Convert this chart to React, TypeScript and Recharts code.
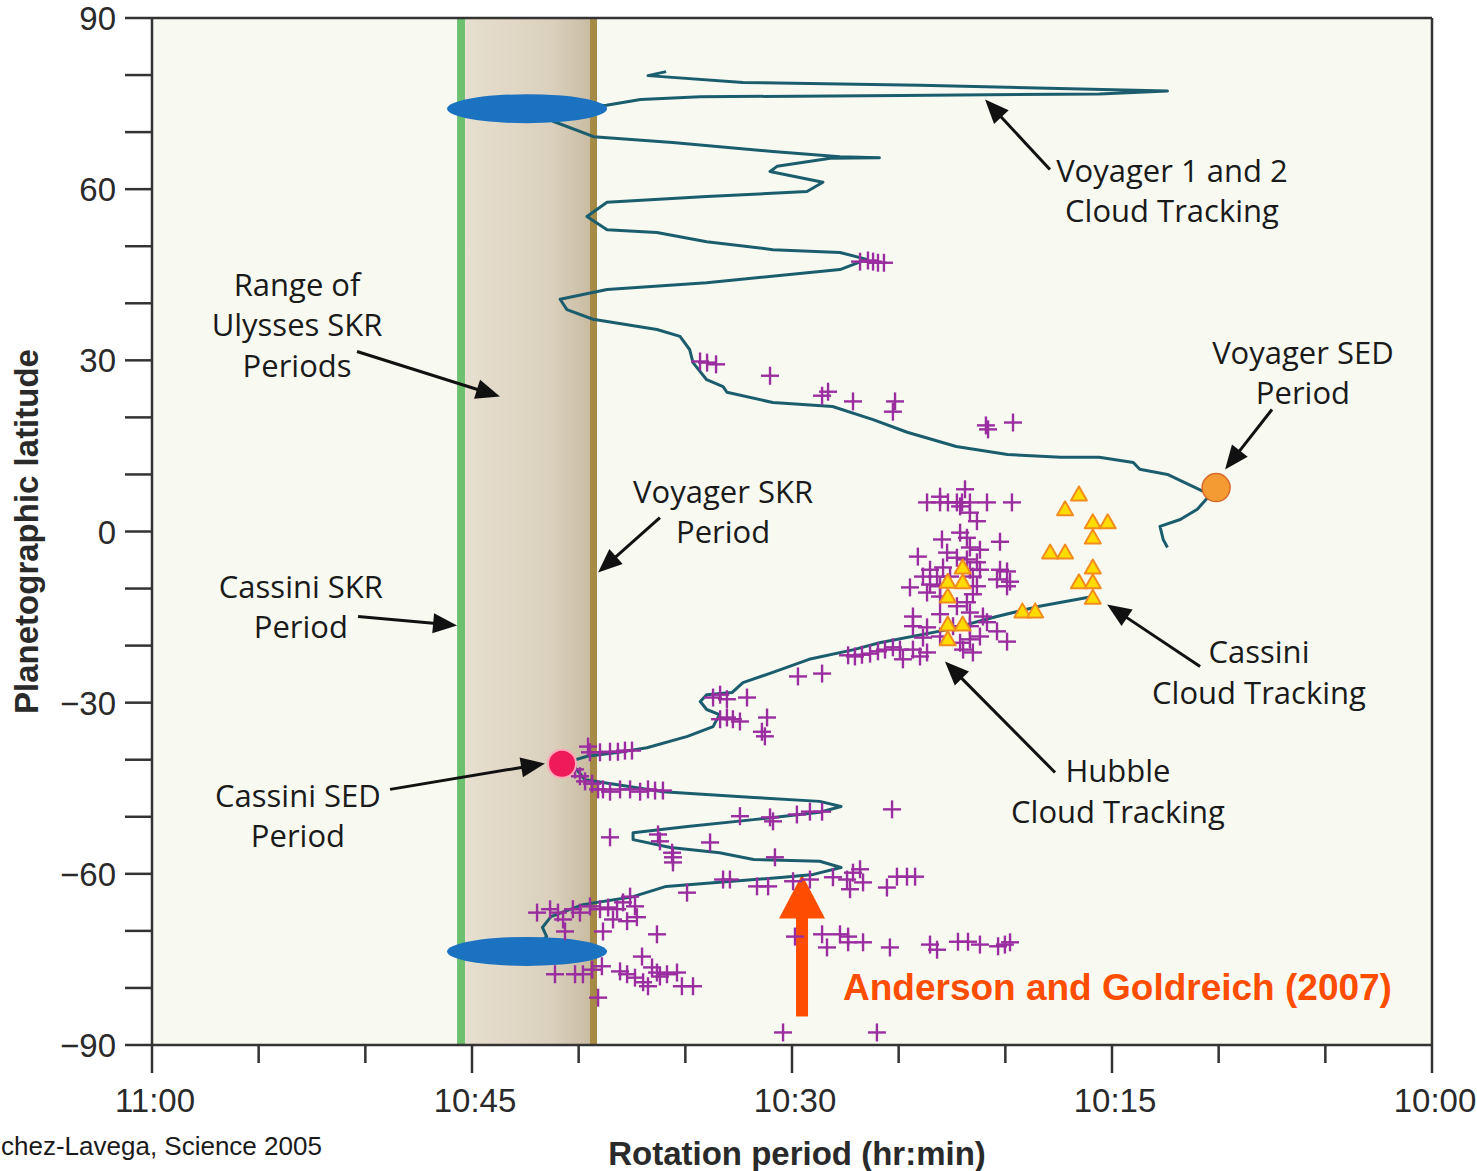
import React from 'react';
import {
  ComposedChart,
  XAxis,
  YAxis,
  Scatter,
  ReferenceArea,
  ReferenceLine,
  ReferenceDot,
  Label,
} from 'recharts';

// x value = minutes of rotation period below 11:00 (0 -> 11:00, 60 -> 10:00); y = planetographic latitude (deg)
const xTicks = [0, 5, 10, 15, 20, 25, 30, 35, 40, 45, 50, 55, 60];
const xMajorTicks = [0, 15, 30, 45, 60];
const xTickLabels = ['11:00', '10:45', '10:30', '10:15', '10:00'];
const yTicks = [-90, -80, -70, -60, -50, -40, -30, -20, -10, 0, 10, 20, 30, 40, 50, 60, 70, 80, 90];
const yMajorTicks = [-90, -60, -30, 0, 30, 60, 90];
const yTickLabels = ['\u221290', '\u221260', '\u221230', '0', '30', '60', '90'];

// SKR periods
const cassiniSkr = [14.3, 14.67];
const ulyssesSkrRange = [14.67, 20.53];
const voyagerSkr = [20.53, 20.86];

// Voyager 1 and 2 cloud tracking profile [period, latitude]
const voyagerNorth = [
  [24.1, 80.6], [23.25, 79.9], [27.7, 78.7], [36.0, 78.2], [47.6, 77.2], [44.4, 76.7], [35.1, 76.4],
  [25.7, 76.2], [22.9, 75.7], [21.3, 74.7], [17.6, 74.1], [18.8, 71.9], [20.7, 69.2], [24.4, 68.2],
  [29.1, 66.6], [32.25, 65.7], [34.1, 65.5], [31.8, 65.4], [29.3, 64.0], [28.97, 63.1], [29.6, 62.6],
  [31.45, 61.2], [30.7, 59.6], [26.0, 58.7], [21.33, 57.7], [20.39, 55.2], [21.33, 52.9], [23.67, 52.4],
  [26.0, 50.8], [29.1, 49.4], [32.25, 48.9], [33.5, 47.7], [32.25, 45.9], [26.0, 43.6], [21.33, 42.4],
  [19.13, 40.7], [19.45, 38.9], [20.67, 37.2], [23.67, 35.4], [24.75, 34.2], [25.2, 31.9], [25.36, 29.6],
  [26.0, 26.6], [26.77, 25.4], [26.95, 24.4], [29.1, 22.6], [31.9, 21.9], [33.8, 19.6], [35.4, 17.4],
  [37.7, 14.9], [40.1, 13.5], [42.6, 13.0], [44.4, 13.0], [46.0, 12.1], [46.3, 10.9], [47.6, 10.0],
  [49.3, 7.0], [49.5, 6.0], [49.0, 3.9], [48.2, 2.1], [47.25, 0.9], [47.4, -1.4], [47.6, -2.8],
];
const voyagerSouth = [
  [44.1, -11.4], [41.6, -13.1], [39.6, -14.9], [37.3, -17.2], [34.1, -19.5], [32.9, -20.7], [30.8, -22.4],
  [29.1, -24.7], [27.7, -26.5], [27.2, -28.2], [26.0, -28.6], [25.7, -29.8], [26.0, -31.2], [26.6, -32.1],
  [26.3, -34.2], [25.1, -35.9], [23.2, -37.9], [21.9, -38.7], [20.4, -39.4], [19.6, -40.3], [20.3, -43.5],
  [23.95, -45.6], [28.2, -46.6], [31.3, -47.3], [32.3, -48.2], [31.3, -49.2], [28.2, -50.5], [25.1, -51.7],
  [22.55, -52.8], [22.55, -54.0], [24.3, -55.4], [26.6, -56.3], [28.2, -57.5], [31.3, -57.8], [32.3, -58.9],
  [31.0, -60.1], [29.6, -60.6], [27.2, -61.3], [24.1, -62.2], [22.55, -64.0], [20.2, -65.4], [18.7, -67.5],
  [18.3, -69.4], [18.5, -71.0], [17.7, -73.3],
];

// Hubble cloud tracking [period, latitude]
const hubble = [
  [33.19, 47.3], [33.56, 47.5], [33.8, 47.3], [34.03, 47.1], [34.31, 47.1],
  [25.69, 29.8], [26.02, 29.6], [26.44, 29.3], [28.97, 27.3], [31.41, 23.8], [31.69, 24.5], [32.86, 22.8],
  [34.83, 22.8], [34.73, 21.0], [39.09, 18.6], [39.19, 17.9], [40.36, 19.1],
  [38.11, 7.4], [36.94, 6.1], [36.33, 5.1], [36.94, 5.1], [37.31, 5.1], [37.73, 5.1], [37.97, 5.1],
  [38.34, 5.1], [39.14, 5.1], [40.31, 5.1], [37.88, 4.4], [38.34, 3.3], [38.67, 1.8], [37.88, -0.2],
  [37.03, -1.4], [38.2, -1.1], [39.75, -1.8], [38.34, -2.8], [38.81, -3.2], [35.9, -4.4], [37.27, -3.7],
  [37.73, -4.6], [38.2, -4.9], [38.67, -5.4], [36.47, -6.7], [37.08, -6.3], [38.34, -6.7], [38.81, -6.7],
  [39.75, -6.7], [40.08, -7.0], [36.14, -7.9], [36.8, -7.9], [37.41, -7.9], [38.48, -7.9], [39.61, -8.4],
  [40.22, -8.8], [35.53, -9.8], [36.47, -9.3], [36.94, -9.6], [38.67, -9.6], [40.08, -9.6], [36.33, -10.7],
  [36.94, -11.4], [38.48, -11.0], [38.2, -12.4], [37.73, -13.1], [35.67, -14.9], [36.94, -14.5],
  [38.34, -14.2], [38.95, -14.9], [35.67, -16.6], [36.33, -16.8], [37.55, -16.6], [38.34, -16.6],
  [39.14, -15.9], [39.61, -17.5], [36.14, -18.6], [36.94, -18.4], [37.88, -19.5], [38.34, -18.9],
  [38.81, -18.4], [40.08, -19.3], [35.06, -20.7], [35.67, -20.7], [36.33, -21.2], [35.2, -22.4],
  [36.0, -21.9], [38.02, -20.7], [38.48, -21.2], [32.63, -21.7], [32.95, -21.9], [33.28, -21.6],
  [33.66, -21.4], [34.03, -21.0], [34.36, -20.7], [34.73, -20.3], [30.28, -25.4], [31.41, -24.9],
  [26.3, -29.1], [26.63, -28.6], [26.95, -29.4], [27.89, -29.1], [26.63, -32.9], [26.95, -32.6],
  [27.23, -32.9], [27.56, -33.3], [28.83, -32.6], [28.59, -35.1], [28.73, -35.9],
  [20.44, -37.7], [20.53, -38.7], [21.0, -38.7], [21.47, -38.6], [21.84, -38.6], [22.17, -38.4], [22.5, -38.4],
  [19.83, -41.7], [20.06, -42.9], [20.3, -43.8], [20.63, -44.2], [20.91, -45.2], [21.14, -45.2],
  [21.47, -45.6], [21.94, -45.2], [22.41, -45.2], [22.88, -45.6], [23.25, -45.2], [23.58, -45.4], [23.95, -45.4],
  [27.56, -49.9], [28.97, -50.1], [29.11, -50.8], [30.23, -49.6], [30.84, -49.1], [31.41, -49.1], [34.69, -48.7],
  [21.47, -53.6], [23.72, -53.1], [23.81, -54.3], [26.16, -54.5], [24.38, -56.3], [24.42, -57.1],
  [24.42, -58.0], [29.2, -57.1],
  [26.77, -61.0], [27.09, -61.0], [28.36, -62.2], [28.88, -62.2], [30.05, -61.3], [30.84, -61.0],
  [31.92, -60.6], [32.58, -61.0], [32.86, -59.8], [33.19, -59.2], [32.72, -62.7], [33.33, -61.5],
  [34.45, -62.4], [34.92, -60.5], [35.39, -60.5], [35.77, -60.5], [25.08, -63.3],
  [18.05, -66.8], [18.66, -66.2], [19.03, -66.8], [19.27, -68.0], [19.73, -66.2], [20.06, -66.8],
  [20.53, -65.7], [21.0, -66.2], [21.38, -65.9], [21.8, -66.2], [22.08, -65.0], [22.41, -64.0],
  [22.64, -65.7], [21.61, -68.0], [22.27, -68.3], [22.73, -67.6], [19.36, -70.1], [21.14, -70.1], [23.67, -70.6],
  [18.89, -77.6], [19.83, -77.6], [20.2, -77.6], [20.63, -76.8], [21.09, -76.2], [21.94, -77.1],
  [22.27, -77.6], [22.64, -78.2], [23.02, -79.0], [22.97, -74.5], [23.44, -76.4], [23.67, -77.3],
  [23.81, -78.0], [24.14, -77.6], [24.61, -77.3], [24.84, -79.7], [25.36, -79.7], [23.25, -79.7], [20.91, -81.7],
  [30.14, -71.0], [31.41, -70.6], [31.64, -72.9], [32.25, -70.6], [32.63, -71.0], [32.63, -72.0],
  [33.33, -72.0], [34.59, -72.9], [36.47, -72.4], [36.8, -73.3], [37.78, -71.9], [38.25, -71.9],
  [38.81, -72.4], [39.66, -72.7], [39.98, -72.4], [40.22, -72.0],
  [29.58, -87.8], [33.98, -87.8],
];

// Cassini cloud tracking [period, latitude]
const cassiniCloud = [
  [43.45, 6.5], [42.8, 3.9], [44.1, 1.6], [44.8, 1.6], [44.1, -1.05], [42.1, -3.7], [42.8, -3.7],
  [44.1, -6.3], [43.45, -8.9], [44.1, -8.9], [44.1, -11.6], [40.8, -14.0], [41.4, -14.0],
  [38.0, -6.3], [37.3, -8.8], [38.0, -8.9], [37.3, -11.4], [37.3, -16.3], [38.0, -16.3], [37.3, -18.9],
];

// SED periods and SKR source regions
const cassiniSed = [[19.22, -40.7]];
const voyagerSed = [[49.88, 7.7]];
const skrSources = [[17.58, 74.1], [17.58, -73.6]];

// Annotations: anchor [period, latitude] of first text line
const annotations = [
  { at: [47.81, 61.34], lines: ['Voyager 1 and 2', 'Cloud Tracking'] },
  { at: [6.8, 41.36], lines: ['Range of', 'Ulysses SKR', 'Periods'] },
  { at: [53.95, 29.44], lines: ['Voyager SED', 'Period'] },
  { at: [26.77, 5.08], lines: ['Voyager SKR', 'Period'] },
  { at: [6.98, -11.57], lines: ['Cassini SKR', 'Period'] },
  { at: [6.84, -48.2], lines: ['Cassini SED', 'Period'] },
  { at: [51.89, -23.13], lines: ['Cassini', 'Cloud Tracking'] },
  { at: [45.28, -43.99], lines: ['Hubble', 'Cloud Tracking'] },
];
const arrows = [
  [[42.09, 63.44], [39.05, 75.71]],
  [[9.61, 31.55], [16.31, 23.66]],
  [[52.5, 21.38], [50.3, 10.87]],
  [[23.81, 2.45], [20.91, -7.19]],
  [[9.66, -14.9], [14.3, -16.47]],
  [[11.16, -45.2], [18.42, -40.66]],
  [[49.13, -23.66], [44.77, -12.79]],
  [[42.33, -42.24], [37.17, -22.78]],
];
const andersonText = 'Anderson and Goldreich (2007)';
const andersonAt = [32.39, -82.2];
const andersonArrow = [[30.47, -85.0], [30.47, -60.1]];
const creditText = 'chez-Lavega, Science 2005';

const toPts = (arr: number[][]) => arr.map(([m, lat]) => ({ m, lat }));

const AXIS = '#333333';
const TICK_FONT = '"Liberation Sans", Arial, sans-serif';
const NOTE_FONT = '"Open Sans", "Noto Sans", sans-serif';

const XTick = (props: any) => {
  const { x, y, payload } = props;
  const v = payload.value;
  const idx = xMajorTicks.indexOf(v);
  const major = idx >= 0;
  return (
    <g>
      <line x1={x} y1={y} x2={x} y2={y + (major ? 28 : 18)} stroke={AXIS} strokeWidth={2.5} />
      {major && (
        <text x={x + 3} y={y + 67} textAnchor="middle" fontFamily={TICK_FONT} fontSize={33} fill="#2a2a2a">
          {xTickLabels[idx]}
        </text>
      )}
    </g>
  );
};

const YTick = (props: any) => {
  const { x, y, payload } = props;
  const v = payload.value;
  const idx = yMajorTicks.indexOf(v);
  return (
    <g>
      <line x1={x} y1={y} x2={x - 27} y2={y} stroke={AXIS} strokeWidth={2.5} />
      {idx >= 0 && (
        <text x={x - 36} y={y + 12} textAnchor="end" fontFamily={TICK_FONT} fontSize={33} fill="#2a2a2a">
          {yTickLabels[idx]}
        </text>
      )}
    </g>
  );
};

const NoDot = () => <g />;

const PlusShape = (p: any) =>
  p.cx == null ? <g /> : (
    <g stroke="#9a2d9f" strokeWidth={2.4}>
      <line x1={p.cx - 9} y1={p.cy} x2={p.cx + 9} y2={p.cy} />
      <line x1={p.cx} y1={p.cy - 9} x2={p.cx} y2={p.cy + 9} />
    </g>
  );

const TriShape = (p: any) =>
  p.cx == null ? <g /> : (
    <polygon
      points={`${p.cx},${p.cy - 8} ${p.cx + 8},${p.cy + 6} ${p.cx - 8},${p.cy + 6}`}
      fill="#ffdc00"
      stroke="#f28c1e"
      strokeWidth={2}
      strokeLinejoin="round"
    />
  );

const EllipseShape = (p: any) =>
  p.cx == null ? <g /> : <ellipse cx={p.cx} cy={p.cy} rx={80} ry={14.5} fill="#1b72c1" />;

const RedDot = (p: any) =>
  p.cx == null ? <g /> : <circle cx={p.cx} cy={p.cy} r={14} fill="#ee1b58" stroke="#ffa6b8" strokeWidth={2} />;

const OrangeDot = (p: any) =>
  p.cx == null ? <g /> : <circle cx={p.cx} cy={p.cy} r={14} fill="#f59b33" stroke="#d9692a" strokeWidth={1.5} />;

const ArrowShape = (p: any) => {
  const { x1, y1, x2, y2 } = p;
  if (x1 == null) return <g />;
  const dx = x2 - x1;
  const dy = y2 - y1;
  const len = Math.hypot(dx, dy) || 1;
  const ux = dx / len;
  const uy = dy / len;
  const hl = 24;
  const hw = 10;
  const bx = x2 - ux * hl;
  const by = y2 - uy * hl;
  return (
    <g>
      <line x1={x1} y1={y1} x2={bx + ux * 3} y2={by + uy * 3} stroke="#111" strokeWidth={3} />
      <polygon points={`${x2},${y2} ${bx - uy * hw},${by + ux * hw} ${bx + uy * hw},${by - ux * hw}`} fill="#111" />
    </g>
  );
};

const BigArrowShape = (p: any) => {
  const { x1, y1, x2, y2 } = p;
  if (x1 == null) return <g />;
  const headLen = 44;
  const top = Math.min(y1, y2);
  const bottom = Math.max(y1, y2);
  return (
    <g fill="#ff4d00">
      <rect x={x1 - 6} y={top + headLen - 2} width={12} height={bottom - top - headLen + 2} />
      <polygon points={`${x1},${top} ${x1 + 23},${top + headLen} ${x1 - 23},${top + headLen}`} />
    </g>
  );
};

const makeTextShape = (lines: string[]) => (p: any) =>
  p.cx == null ? <g /> : (
    <text x={p.cx} y={p.cy} textAnchor="middle" fontFamily={NOTE_FONT} fontSize={31} fill="#1a1a1a">
      {lines.map((l, i) => (
        <tspan key={i} x={p.cx} dy={i === 0 ? 0 : 40.5}>
          {l}
        </tspan>
      ))}
    </text>
  );

const andersonShape = (p: any) =>
  p.cx == null ? <g /> : (
    <text x={p.cx} y={p.cy} textAnchor="start" fontFamily={TICK_FONT} fontWeight="bold" fontSize={37} fill="#ff4d00">
      {andersonText}
    </text>
  );

const YTitle = (props: any) => {
  const vb = props.viewBox || { x: 0, y: 18, width: 152, height: 1027 };
  const cx = vb.x + 38;
  const cy = vb.y + vb.height / 2;
  return (
    <text
      x={cx}
      y={cy}
      transform={`rotate(-90 ${cx} ${cy})`}
      textAnchor="middle"
      fontFamily={TICK_FONT}
      fontWeight="bold"
      fontSize={33}
      fill="#2a2a2a"
    >
      Planetographic latitude
    </text>
  );
};

const XTitle = (props: any) => {
  const vb = props.viewBox || { x: 152, y: 1045, width: 1280, height: 126 };
  return (
    <g>
      <text x={vb.x + 645} y={vb.y + 120} textAnchor="middle" fontFamily={TICK_FONT} fontWeight="bold" fontSize={33} fill="#2a2a2a">
        Rotation period (hr:min)
      </text>
      <text x={vb.x - 151} y={vb.y + 110} textAnchor="start" fontFamily={TICK_FONT} fontSize={26} fill="#1a1a1a">
        {creditText}
      </text>
    </g>
  );
};

export default function App() {
  return (
    <div style={{ position: 'absolute', left: 0, top: 0, width: 1477, height: 1171, background: '#ffffff' }}>
      <ComposedChart width={1477} height={1171} margin={{ top: 18, right: 45, left: 0, bottom: 0 }}>
        <defs>
          <linearGradient id="ulyssesBand" x1="0" y1="0" x2="1" y2="0">
            <stop offset="0%" stopColor="#e7dfcf" />
            <stop offset="70%" stopColor="#dad0bd" />
            <stop offset="100%" stopColor="#c9bca2" />
          </linearGradient>
        </defs>
        <XAxis
          type="number"
          dataKey="m"
          domain={[0, 60]}
          ticks={xTicks}
          interval={0}
          allowDataOverflow
          height={126}
          tickSize={0}
          tickMargin={0}
          tickLine={false}
          tick={<XTick />}
          axisLine={{ stroke: AXIS, strokeWidth: 2.5 }}
        >
          <Label content={<XTitle />} />
        </XAxis>
        <YAxis
          type="number"
          dataKey="lat"
          domain={[-90, 90]}
          ticks={yTicks}
          interval={0}
          allowDataOverflow
          width={152}
          tickSize={0}
          tickMargin={0}
          tickLine={false}
          tick={<YTick />}
          axisLine={{ stroke: AXIS, strokeWidth: 2.5 }}
        >
          <Label content={<YTitle />} />
        </YAxis>

        <ReferenceArea x1={0} x2={60} y1={-90} y2={90} fill="#f8faf2" fillOpacity={1} stroke="none" />
        <ReferenceArea x1={ulyssesSkrRange[0]} x2={ulyssesSkrRange[1]} y1={-90} y2={90} fill="url(#ulyssesBand)" fillOpacity={1} stroke="none" />
        <ReferenceArea x1={cassiniSkr[0]} x2={cassiniSkr[1]} y1={-90} y2={90} fill="#6cc06e" fillOpacity={1} stroke="none" />
        <ReferenceArea x1={voyagerSkr[0]} x2={voyagerSkr[1]} y1={-90} y2={90} fill="#a58b46" fillOpacity={1} stroke="none" />
        <ReferenceLine y={90} stroke={AXIS} strokeWidth={2.5} />
        <ReferenceLine x={60} stroke={AXIS} strokeWidth={2.5} />

        <Scatter
          data={toPts(voyagerNorth)}
          shape={NoDot}
          line={{ stroke: '#1c5d6d', strokeWidth: 3, strokeLinejoin: 'round' }}
          lineJointType="linear"
          isAnimationActive={false}
        />
        <Scatter
          data={toPts(voyagerSouth)}
          shape={NoDot}
          line={{ stroke: '#1c5d6d', strokeWidth: 3, strokeLinejoin: 'round' }}
          lineJointType="linear"
          isAnimationActive={false}
        />
        <Scatter data={toPts(skrSources)} shape={EllipseShape} isAnimationActive={false} />
        <Scatter data={toPts(hubble)} shape={PlusShape} isAnimationActive={false} />
        <Scatter data={toPts(cassiniCloud)} shape={TriShape} isAnimationActive={false} />
        <Scatter data={toPts(cassiniSed)} shape={RedDot} isAnimationActive={false} />
        <Scatter data={toPts(voyagerSed)} shape={OrangeDot} isAnimationActive={false} />

        {arrows.map((a, i) => (
          <ReferenceLine
            key={`arr${i}`}
            segment={[{ x: a[0][0], y: a[0][1] }, { x: a[1][0], y: a[1][1] }]}
            shape={ArrowShape}
          />
        ))}
        <ReferenceLine
          segment={[{ x: andersonArrow[0][0], y: andersonArrow[0][1] }, { x: andersonArrow[1][0], y: andersonArrow[1][1] }]}
          shape={BigArrowShape}
        />
        {annotations.map((a, i) => (
          <ReferenceDot key={`ann${i}`} x={a.at[0]} y={a.at[1]} shape={makeTextShape(a.lines)} />
        ))}
        <ReferenceDot x={andersonAt[0]} y={andersonAt[1]} shape={andersonShape} />
      </ComposedChart>
    </div>
  );
}
